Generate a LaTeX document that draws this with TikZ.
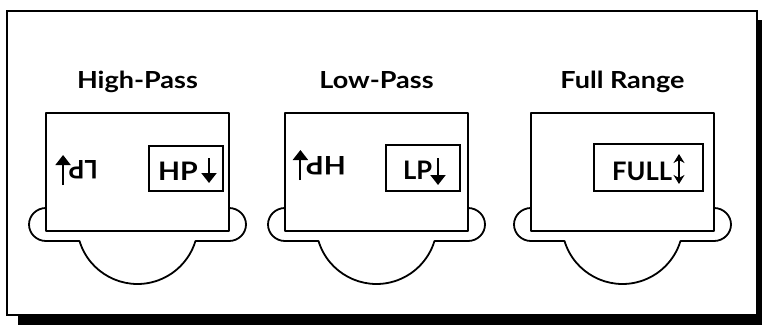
\documentclass[tikz,border=0pt]{standalone}
\usepackage{fontspec}
\setmainfont{Lato}
\newfontfamily\headingfont{Lato}[FakeStretch=1.15]
\newfontfamily\wideface{Lato}[FakeStretch=1.12]
\usetikzlibrary{arrows.meta}
\begin{document}
\begin{tikzpicture}[x=1pt,y=1pt,
  frame/.style={line width=2pt},
  outline/.style={line width=1.8pt, line join=round},
  title/.style={font=\headingfont\bfseries\fontsize{23.5}{24}\selectfont, inner sep=0pt, anchor=base},
  tag/.style={font=\bfseries\fontsize{25.5}{26}\selectfont, inner sep=0pt, anchor=base west},
  widetag/.style={tag, font=\wideface\bfseries\fontsize{25.5}{26}\selectfont},
  tagbox/.style={draw, line width=1.8pt, anchor=south west, inner sep=0pt},
  downarrow/.style={line width=2pt, -{Triangle[width=15pt,length=10pt]}},
  bothways/.style={line width=1.6pt, {Stealth[width=11pt,length=9pt]}-{Stealth[width=11pt,length=9pt]}},
  head/.pic={
    % ears, jaw line and chin
    \draw[outline] (0,23) arc[start angle=90,end angle=270,x radius=17,y radius=16.5]
      -- (33.5,-10) arc[start angle=196.9,end angle=343.1,radius=60.6]
      -- (183,-10) arc[start angle=-90,end angle=90,x radius=17,y radius=16.5];
    % face
    \draw[outline] (0,0) rectangle (183,118);
  }]
\useasboundingbox (0,0) rectangle (762,325);

% drop shadow and frame
\fill (18,0) rectangle (762,305);
\draw[frame, fill=white] (7,10) rectangle (757,314);

% titles
\node[title] (t1) at (137.5,237) {High-Pass};
\node[title] (t2) at (376.5,237) {Low-Pass};
\node[title] (t3) at (622.5,237) {Full Range};

% heads
\pic at (46,94) {head};
\pic at (285,94) {head};
\pic at (531,94) {head};

% High-Pass
\node[tagbox, minimum width=74, minimum height=45] (hpbox) at (148,133) {};
\node[widetag] (hptext) at ([shift={(10,12)}]hpbox.south west) {HP};
\draw[downarrow] ([shift={(61,34)}]hpbox.south west) -- ([shift={(61,9)}]hpbox.south west);
\node[tag, rotate=180] (lpflip) at (98,165) {LP};
\draw[downarrow] ([shift={(-5.5,-25)}]lpflip.base east) -- ([shift={(-5.5,5)}]lpflip.base east);

% Low-Pass
\node[tagbox, minimum width=74, minimum height=46] (lpbox) at (385,133) {};
\node[tag] (lptext) at ([shift={(18,13)}]lpbox.south west) {LP};
\draw[downarrow] ([shift={(53,34)}]lpbox.south west) -- ([shift={(53,7)}]lpbox.south west);
\node[widetag, rotate=180] (hpflip) at (346,169) {HP};
\draw[downarrow] ([shift={(-5.5,-24)}]hpflip.base east) -- ([shift={(-5.5,6)}]hpflip.base east);

% Full Range
\node[tagbox, minimum width=109, minimum height=47] (fullbox) at (593,133) {};
\node[tag] (fulltext) at ([shift={(19,12)}]fullbox.south west) {FULL};
\draw[bothways] ([shift={(86,38)}]fullbox.south west) -- ([shift={(86,8)}]fullbox.south west);
\end{tikzpicture}
\end{document}
